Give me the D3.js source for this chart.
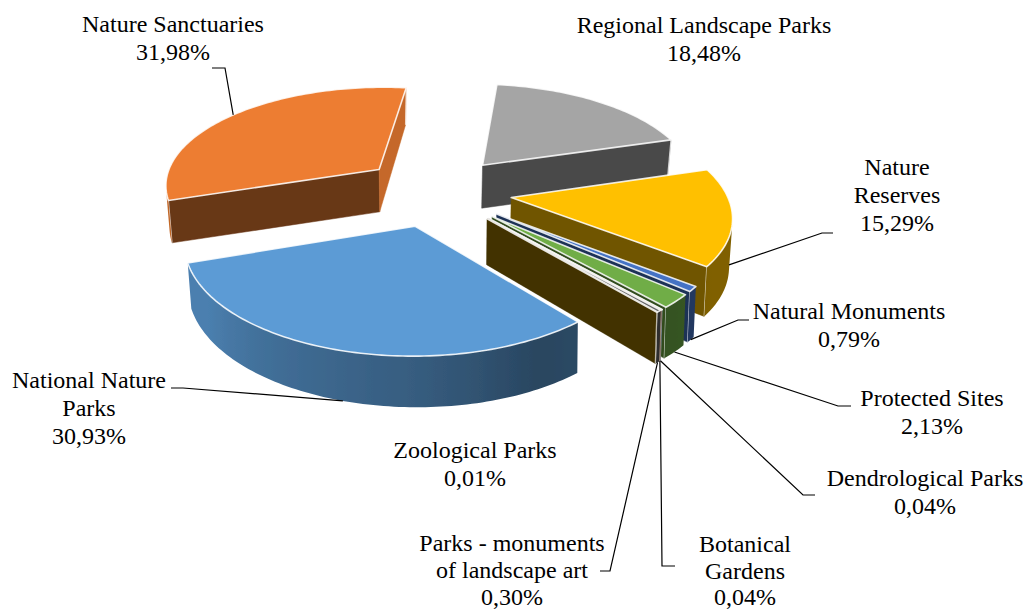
<!DOCTYPE html>
<html>
<head>
<meta charset="utf-8">
<script src="https://cdn.jsdelivr.net/npm/d3@7"></script>
<style>
  body { margin: 0; background: #fff; }
  text { font-family: "Liberation Serif", serif; font-size: 24px; fill: #000; }
</style>
</head>
<body>
<svg id="chart" width="1026" height="609"></svg>
<script>
// Shares in clockwise order, starting at the grey slice.
const categories = [
  ["Regional Landscape Parks"],
  ["Nature", "Reserves"],
  ["Natural Monuments"],
  ["Protected Sites"],
  ["Dendrological Parks"],
  ["Botanical", "Gardens"],
  ["Parks - monuments", "of landscape art"],
  ["Zoological Parks"],
  ["National Nature", "Parks"],
  ["Nature Sanctuaries"]
];
const shares = [18.48, 15.29, 0.79, 2.13, 0.04, 0.04, 0.30, 0.01, 30.93, 31.98];
const colors = ["#A5A5A5", "#FFC000", "#4472C4", "#70AD47", "#255E91", "#9E480E", "#636363", "#997300", "#5B9BD5", "#ED7D31"];

// Label anchors: text centre, first baseline, row step, leader elbows (the first leader point comes from the pie).
const labelLayout = [
  { x: 704, y: 33, step: 27.8, elbows: null },
  { x: 897, y: 175, step: 27.8, elbows: [[822, 233], [833, 233]] },
  { x: 849, y: 319, step: 27.8, elbows: [[738, 320], [749, 320]] },
  { x: 932, y: 406, step: 27.8, elbows: [[838, 406], [851, 406]] },
  { x: 925, y: 486, step: 27.8, elbows: [[803, 495], [815, 495]] },
  { x: 745, y: 552, step: 26.5, elbows: [[662, 566], [675, 566]] },
  { x: 512, y: 551, step: 27, elbows: [[610, 571], [600, 571]] },
  { x: 475, y: 458, step: 27.8, elbows: null },
  { x: 89, y: 388, step: 27.8, elbows: [[183, 388], [171, 388]] },
  { x: 173, y: 32, step: 27.8, elbows: [[225, 68], [212, 68]] }
];

// Pie plane to screen: projective map fitted to the picture.
const view = { cx: 436.29, cy: 190.94, a: 204.82, b: 68.14, c: -30.66, d: 94.97, g: 0.0473, h: -0.1361 };
const explode = 0.3499;
const startAngle = 0.4308;
const wallHeight = 44;

const svg = d3.select("#chart");
const defs = svg.append("defs");
defs.append("filter").attr("id", "soft")
  .append("feGaussianBlur").attr("stdDeviation", 0.5);

const arcs = d3.pie().sort(null).value(d => d)
  .startAngle(startAngle).endAngle(startAngle + 2 * Math.PI)(shares);

// Screen position of a point of a slice: angle on the disc, radius, depth down the wall (0 to 1).
function project(arc, angle, radius, depth) {
  const mid = (arc.startAngle + arc.endAngle) / 2;
  const X = explode * Math.sin(mid) + radius * Math.sin(angle);
  const Y = -explode * Math.cos(mid) - radius * Math.cos(angle);
  const w = 1 + view.g * X + view.h * Y;
  const sx = view.cx + (view.a * X + view.b * Y) / w;
  const sy = view.cy + (view.c * X + view.d * Y) / w;
  return [sx - 3 * X * depth, sy + wallHeight * (1 + 0.13 * Y) * depth];
}

const shade = (color, k) => {
  const c = d3.rgb(color);
  return d3.rgb(c.r * k, c.g * k, c.b * k).formatHex();
};
const rimShade = d3.scaleLinear().domain([-0.7, 0, 0.3, 0.7]).range([0.82, 0.6, 0.45, 0.5]).clamp(true);
const radialShade = d3.scaleLinear().domain([0.5, 0.8]).range([0.83, 0.44]).clamp(true);
const line = d3.line();

// Far slices first so the near ones paint over them.
const order = d3.range(arcs.length).sort((p, q) =>
  project(arcs[p], 0, 0, 0)[1] - project(arcs[q], 0, 0, 0)[1]);

const pie = svg.append("g").attr("class", "pie").attr("filter", "url(#soft)");

order.forEach(i => {
  const arc = arcs[i];
  const g = pie.append("g");
  const steps = Math.max(1, Math.ceil((arc.endAngle - arc.startAngle) / 0.02));
  const angles = d3.range(steps + 1).map(k => arc.startAngle + (arc.endAngle - arc.startAngle) * k / steps);

  const wall = (a, ra, b, rb) => [
    project(arc, a, ra, 0), project(arc, b, rb, 0), project(arc, b, rb, 1), project(arc, a, ra, 1)
  ];
  const edgeNormal = pts => {
    const dx = pts[1][0] - pts[0][0], dy = pts[1][1] - pts[0][1], len = Math.hypot(dx, dy) || 1;
    return [dy / len, -dx / len];
  };

  // Radial walls, only when they face the viewer.
  [wall(arc.startAngle, 0, arc.startAngle, 1), wall(arc.endAngle, 1, arc.endAngle, 0)].forEach((pts, side) => {
    if (d3.polygonArea(pts) <= 0) return;
    const fill = shade(colors[i], radialShade(edgeNormal(pts)[1]));
    g.append("path").attr("d", line(pts) + "Z").attr("fill", fill).attr("stroke", fill).attr("stroke-width", 0.5);
    // Light seam on the outer corner of the wall.
    const corner = side === 0 ? [pts[1], pts[2]] : [pts[0], pts[3]];
    g.append("path").attr("d", line(corner)).attr("stroke", "#fff").attr("stroke-opacity", 0.7).attr("stroke-width", 1.2);
  });

  // Outer wall, one strip with a left to right gradient of the shade each part of it gets.
  const quads = d3.pairs(angles).map(([a, b]) => wall(a, 1, b, 1)).filter(pts => d3.polygonArea(pts) > 0);
  if (quads.length) {
    const strip = [...quads.map(q => q[0]), quads[quads.length - 1][1], quads[quads.length - 1][2], ...quads.map(q => q[3]).reverse()];
    const [x0, x1] = d3.extent(strip, p => p[0]);
    let fill = shade(colors[i], rimShade(edgeNormal(quads[0])[0]));
    if (x1 - x0 > 4) {
      const grad = defs.append("linearGradient").attr("id", `rim-${i}`)
        .attr("gradientUnits", "userSpaceOnUse")
        .attr("x1", x0).attr("x2", x1).attr("y1", 0).attr("y2", 0);
      const stops = quads.map(q => ({
        offset: ((q[0][0] + q[1][0]) / 2 - x0) / (x1 - x0),
        color: shade(colors[i], rimShade(edgeNormal(q)[0]))
      })).sort((p, q) => p.offset - q.offset);
      grad.selectAll("stop").data(stops).join("stop")
        .attr("offset", d => d.offset)
        .attr("stop-color", d => d.color);
      fill = `url(#rim-${i})`;
    }
    g.append("path").attr("d", line(strip) + "Z").attr("fill", fill);
  }

  // Top face.
  const top = [project(arc, 0, 0, 0), ...angles.map(a => project(arc, a, 1, 0))];
  g.append("path")
    .attr("d", line(top) + "Z")
    .attr("fill", colors[i])
    .attr("stroke", "#fff")
    .attr("stroke-opacity", 0.85)
    .attr("stroke-width", 1.6)
    .attr("stroke-linejoin", "round");
});

// Leader lines start at the foot of the wall, middle of the slice.
labelLayout.forEach((l, i) => {
  if (!l.elbows) return;
  const mid = (arcs[i].startAngle + arcs[i].endAngle) / 2;
  const start = project(arcs[i], mid, 1, i === 9 ? 0 : 1);
  svg.append("path")
    .attr("d", line([start, ...l.elbows]))
    .attr("fill", "none")
    .attr("stroke", "#000")
    .attr("stroke-width", 1.2);
});

// Labels: name lines, then the share with a decimal comma.
labelLayout.forEach((l, i) => {
  const rows = [...categories[i], d3.format(".2f")(shares[i]).replace(".", ",") + "%"];
  svg.append("g").selectAll("text").data(rows).join("text")
    .attr("x", l.x)
    .attr("y", (_, k) => l.y + k * l.step)
    .attr("text-anchor", "middle")
    .text(d => d);
});
</script>
</body>
</html>
